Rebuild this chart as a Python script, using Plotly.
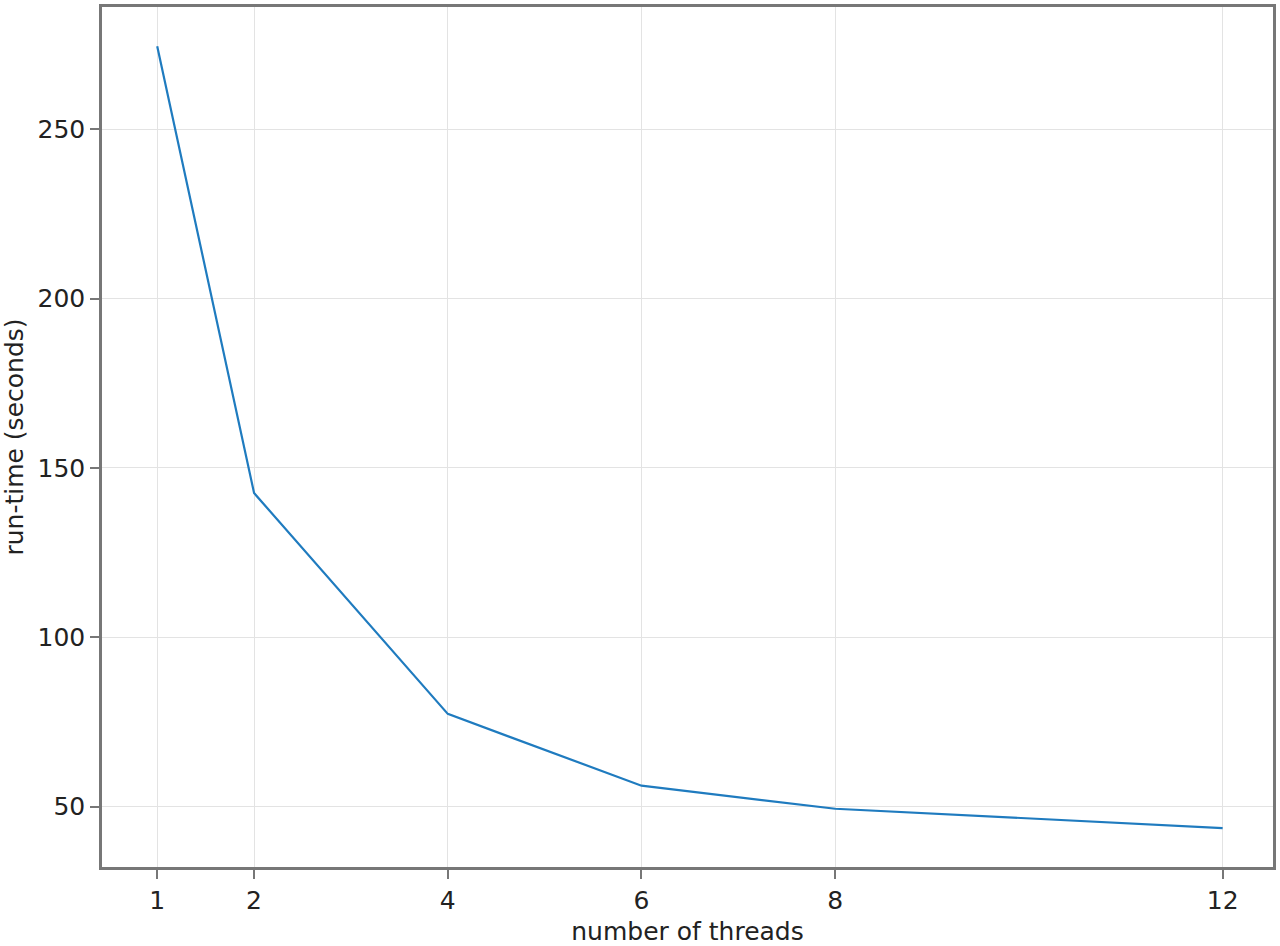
import plotly.graph_objects as go

# nombre de threads et temps d'exécution mesurés
threads = [1, 2, 4, 6, 8, 12]
runtime = [274.5, 142.6, 77.4, 56.2, 49.4, 43.7]

x_ticks = [1, 2, 4, 6, 8, 12]
y_ticks = [50, 100, 150, 200, 250]

fig = go.Figure()

fig.add_trace(
    go.Scatter(
        x=threads,
        y=runtime,
        mode="lines",
        line=dict(color="#1f7bbf", width=2.2),
        showlegend=False,
    )
)

axis_style = dict(
    showline=True,
    mirror=True,
    linecolor="#777777",
    linewidth=2.5,
    ticks="outside",
    ticklen=9,
    tickwidth=2,
    tickcolor="#777777",
    showgrid=True,
    gridcolor="#e3e3e3",
    gridwidth=1,
    zeroline=False,
    tickfont=dict(family="DejaVu Sans", size=25, color="#222222"),
)

fig.update_xaxes(
    **axis_style,
    tickvals=x_ticks,
    range=[0.43, 12.52],
    title=dict(text="number of threads", font=dict(family="DejaVu Sans", size=25, color="#222222"), standoff=9),
)
fig.update_yaxes(
    **axis_style,
    tickvals=y_ticks,
    range=[32.2, 286.1],
    title=dict(text="run-time (seconds)", font=dict(family="DejaVu Sans", size=25, color="#222222"), standoff=8),
)

fig.update_layout(
    width=1280,
    height=946,
    plot_bgcolor="white",
    paper_bgcolor="white",
    margin=dict(l=102, r=4, t=4, b=79),
)

# enlever la marge par défaut de la page et la barre d'outils
fig.write_html(
    "out.html",
    config={"displayModeBar": False},
    post_script="document.body.style.margin='0';",
)
